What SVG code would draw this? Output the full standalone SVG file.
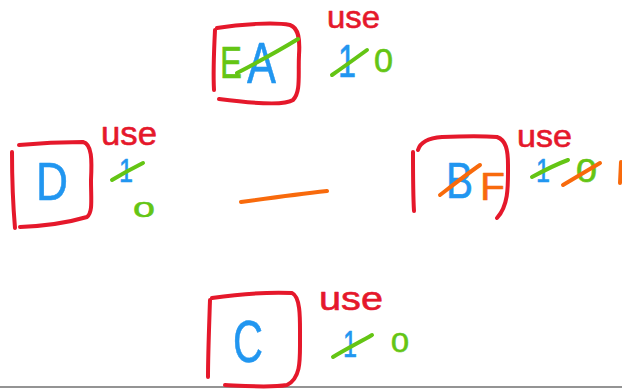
<svg xmlns="http://www.w3.org/2000/svg" width="622" height="390" viewBox="0 0 622 390">
<style>
.box{fill:none;stroke:#e5182b;stroke-width:4;stroke-linecap:round;stroke-linejoin:round}
.stk{fill:none;stroke-width:4;stroke-linecap:round}
.g{stroke:#64c514}
.o{stroke:#f86a0c}
.t{font-family:"Liberation Sans",Arial,sans-serif;stroke-width:0.6;stroke-linejoin:round}
.red{fill:#e5182b;stroke:#e5182b}
.blue{fill:#2196f0;stroke:#2196f0}
.green{fill:#64c514;stroke:#64c514}
.orange{fill:#f86a0c;stroke:#f86a0c}
</style>
<rect width="622" height="390" fill="#ffffff"/>
<line x1="0" y1="387" x2="622" y2="387" stroke="#707070" stroke-width="1.6"/>

<g id="node-EA">
  <path class="box" d="M215,30 C214,50 213,72 214,90"/>
  <path class="box" d="M217,28 C240,24 275,22 290,25 C299,28 300,40 299,55 C298,75 301,92 293,100 C284,106 250,103 219,99"/>
  <text class="t green" x="220" y="78" font-size="44" textLength="22" lengthAdjust="spacingAndGlyphs">E</text>
  <text class="t blue" x="247" y="83" font-size="58" textLength="29" lengthAdjust="spacingAndGlyphs">A</text>
  <path class="stk g" d="M237,73 C258,62 280,50 298,39"/>
  <text class="t red" x="327" y="28" font-size="32" textLength="53" lengthAdjust="spacingAndGlyphs">use</text>
  <text class="t blue" x="338" y="77" font-size="46" textLength="18" lengthAdjust="spacingAndGlyphs">1</text>
  <path class="stk g" d="M332,75 C345,66 356,58 367,50"/>
  <text class="t green" x="374" y="72" font-size="33" textLength="19" lengthAdjust="spacingAndGlyphs">0</text>
</g>

<g id="node-D">
  <path class="box" d="M12,152 C12,180 13,205 15,228"/>
  <path class="box" d="M19,145 C40,143 65,142 83,142 C92,144 92,160 91,180 C91,200 93,212 87,217 C70,222 45,226 20,227"/>
  <text class="t blue" x="36" y="200" font-size="54" textLength="32" lengthAdjust="spacingAndGlyphs">D</text>
  <text class="t red" x="101" y="145" font-size="34" textLength="56" lengthAdjust="spacingAndGlyphs">use</text>
  <text class="t blue" x="119" y="182" font-size="33" textLength="14" lengthAdjust="spacingAndGlyphs">1</text>
  <path class="stk g" d="M112,180 C122,174 133,168 143,163"/>
  <text class="t green" x="133" y="217" font-size="28" textLength="22" lengthAdjust="spacingAndGlyphs">o</text>
</g>

<g id="node-BF">
  <path class="box" d="M413,152 C413,175 413,195 414,211"/>
  <path class="box" d="M418,150 C420,143 428,138 442,137 C465,136 485,136 497,137 C506,140 508,150 508,165 C508,185 509,205 497,218"/>
  <text class="t blue" x="446" y="198" font-size="50" textLength="27" lengthAdjust="spacingAndGlyphs">B</text>
  <text class="t orange" x="480" y="200" font-size="38" textLength="25" lengthAdjust="spacingAndGlyphs">F</text>
  <path class="stk o" d="M440,195 C453,185 467,174 480,165"/>
  <text class="t red" x="517" y="147" font-size="32" textLength="55" lengthAdjust="spacingAndGlyphs">use</text>
  <text class="t blue" x="536" y="182" font-size="33" textLength="14" lengthAdjust="spacingAndGlyphs">1</text>
  <path class="stk g" d="M532,177 C545,170 557,164 568,160"/>
  <text class="t green" x="576" y="182" font-size="33" textLength="21" lengthAdjust="spacingAndGlyphs">0</text>
  <path class="stk o" d="M563,185 C575,178 588,170 600,163"/>
  <path class="stk o" d="M621,162 L620,183"/>
</g>

<g id="node-C">
  <path class="box" d="M210,300 C209,330 208,355 208,377"/>
  <path class="box" d="M212,298 C240,294 270,292 292,293 C301,297 300,320 300,340 C300,360 301,378 287,385 C270,388 245,386 225,385"/>
  <text class="t blue" x="233" y="362" font-size="60" textLength="30" lengthAdjust="spacingAndGlyphs">C</text>
  <text class="t red" x="319" y="310" font-size="34" textLength="64" lengthAdjust="spacingAndGlyphs">use</text>
  <text class="t blue" x="343" y="357" font-size="36" textLength="14" lengthAdjust="spacingAndGlyphs">1</text>
  <path class="stk g" d="M333,357 C346,349 360,342 372,335"/>
  <text class="t green" x="391" y="352" font-size="28" textLength="18" lengthAdjust="spacingAndGlyphs">0</text>
</g>

<g id="connectors">
  <path class="stk o" d="M241,202 C270,198 300,194 327,191"/>
</g>
</svg>
